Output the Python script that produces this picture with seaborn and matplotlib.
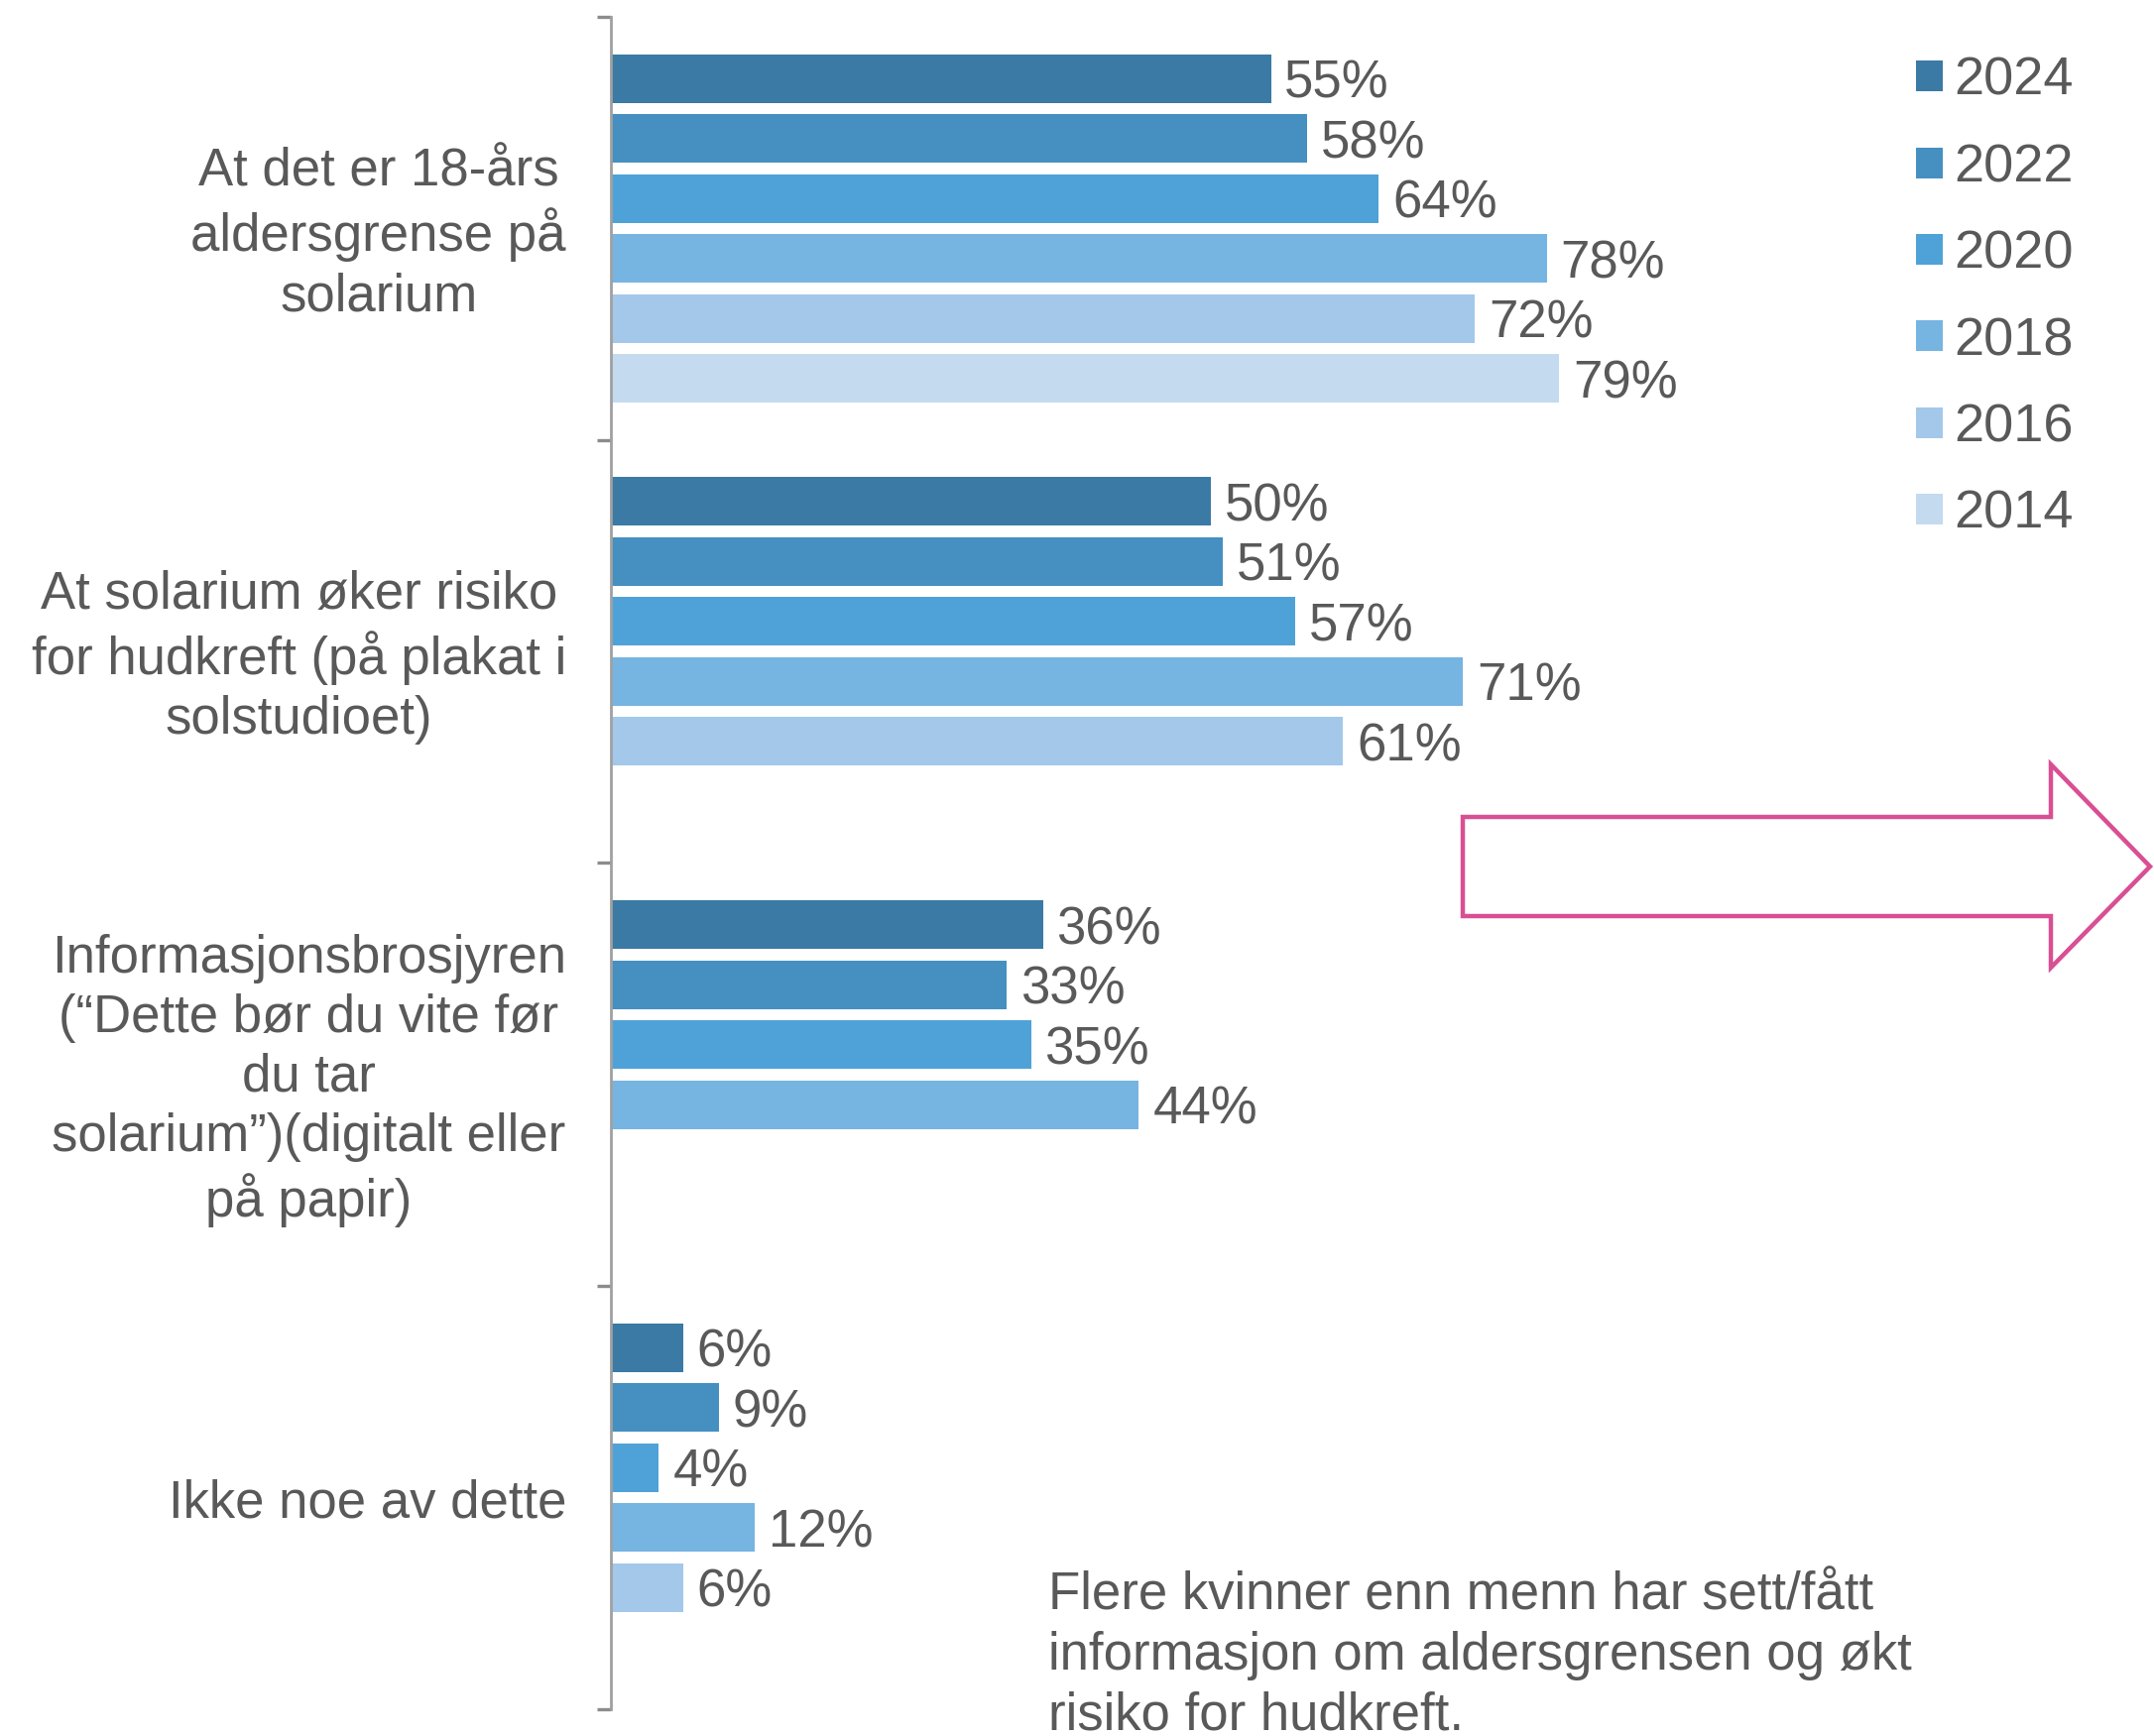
import pandas as pd
import numpy as np
import matplotlib
matplotlib.use("Agg")
import matplotlib.pyplot as plt
from matplotlib.patches import Polygon
from matplotlib.transforms import blended_transform_factory, ScaledTranslation
import seaborn as sns

# data
categories = [
    "At det er 18-års\naldersgrense på\nsolarium",
    "At solarium øker risiko\nfor hudkreft (på plakat i\nsolstudioet)",
    "Informasjonsbrosjyren\n(“Dette bør du vite før\ndu tar\nsolarium”)(digitalt eller\npå papir)",
    "Ikke noe av dette",
]
years = ["2024", "2022", "2020", "2018", "2016", "2014"]
v2024 = [55, 50, 36, 6]
v2022 = [58, 51, 33, 9]
v2020 = [64, 57, 35, 4]
v2018 = [78, 71, 44, 12]
v2016 = [72, 61, np.nan, 6]
v2014 = [79, np.nan, np.nan, np.nan]
colors = ["#3A7AA4", "#4590C0", "#4FA2D8", "#76B4E2", "#A3C8EA", "#C3DAEF"]
note = "Flere kvinner enn menn har sett/fått\ninformasjon om aldersgrensen og økt\nrisiko for hudkreft."

TEXT = "#595959"

rows = []
for yr, vals in zip(years, [v2024, v2022, v2020, v2018, v2016, v2014]):
    for cat, v in zip(categories, vals):
        rows.append({"kategori": cat, "år": yr, "andel": v})
df = pd.DataFrame(rows).dropna()

sns.set_style("white")
plt.rcParams["font.family"] = ["Liberation Sans", "DejaVu Sans"]
plt.rcParams["text.color"] = TEXT

W, H = 2172, 1751
DPI = 200
fig = plt.figure(figsize=(W / DPI, H / DPI), dpi=DPI)
ax = fig.add_axes([616 / W, 1 - 1724 / H, 1210 / W, (1724 - 17) / H])

sns.barplot(data=df, x="andel", y="kategori", hue="år", order=categories,
            hue_order=years, palette=dict(zip(years, colors)), orient="h",
            width=0.85, gap=0.19, ax=ax, linewidth=0, saturation=1)

for cont in ax.containers:
    txts = ax.bar_label(cont, fmt="%.0f%%", padding=5, fontsize=19, color=TEXT)
    for t in txts:
        t.set_va("center_baseline")

handles, labels = ax.get_legend_handles_labels()
ax.get_legend().remove()
fig.legend(handles, labels, loc="upper left", bbox_to_anchor=(1932 / W, 1 - 57 / H),
           frameon=False, fontsize=19.5, handlelength=0.5, handleheight=0.5,
           handletextpad=0.2, labelspacing=0.69, borderpad=0, borderaxespad=0,
           labelcolor=TEXT)

ax.set_xlim(0, 100)
ax.set_ylim(3.5, -0.5)
ax.set_xlabel("")
ax.set_ylabel("")
ax.set_xticks([])
ax.set_yticks(range(len(categories)))
ax.set_yticklabels([])
ax.set_yticks([-0.5, 0.5, 1.5, 2.5, 3.5], minor=True)
ax.tick_params(axis="y", which="major", length=0)
ax.tick_params(axis="y", which="minor", length=5, width=1.2, color="#8C8C8C", left=True)
for s in ["top", "right", "bottom"]:
    ax.spines[s].set_visible(False)
ax.spines["left"].set_color("#A0A0A0")
ax.spines["left"].set_linewidth(1.0)

# category labels, right aligned block with centred lines
base = blended_transform_factory(ax.transAxes, ax.transData)
for i, cat in enumerate(categories):
    tr = base + ScaledTranslation(-45 / DPI, -6 / DPI, fig.dpi_scale_trans)
    ax.text(0, i, cat, transform=tr, ha="right", va="center", multialignment="center",
            fontsize=19, color=TEXT, linespacing=1.26)

# pink arrow
pts = [(1475, 824), (2068, 824), (2068, 771), (2168, 874), (2068, 976), (2068, 924), (1475, 924)]
arrow = Polygon([(x / W, 1 - y / H) for x, y in pts], closed=True, fill=False,
                edgecolor="#D94F93", linewidth=1.6, transform=fig.transFigure)
fig.patches.append(arrow)

fig.text(1057 / W, 1 - 1584 / H, note, fontsize=19, color=TEXT, ha="left", va="top",
         linespacing=1.27)

fig.savefig("out.png", dpi=DPI, facecolor="white")
plt.close()
